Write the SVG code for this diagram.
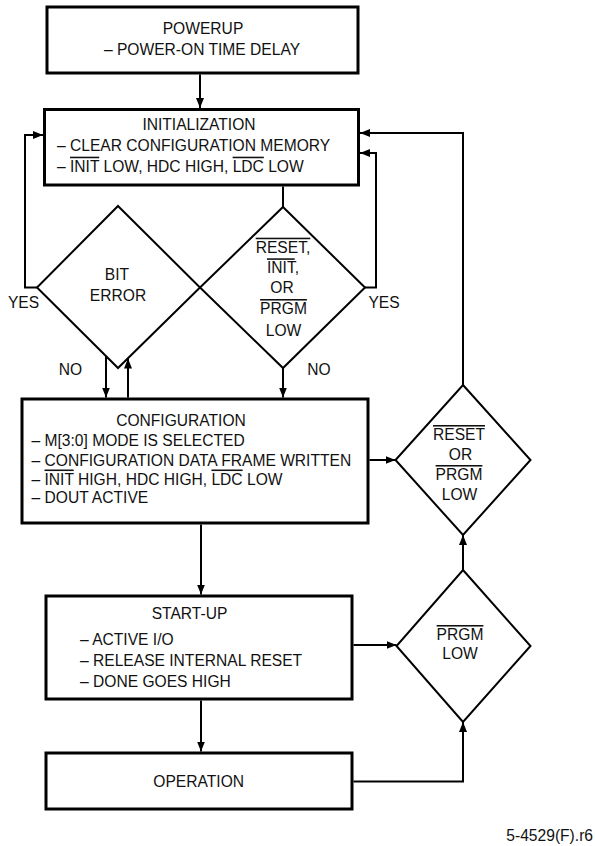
<svg xmlns="http://www.w3.org/2000/svg" width="595" height="846" viewBox="0 0 595 846">
<style>
  .box { fill: #fff; stroke: #000; stroke-width: 3; }
  .dia { fill: none; stroke: #000; stroke-width: 2; }
  .conn path { fill: none; stroke: #000; stroke-width: 2; }
  .arr { marker-end: url(#ah); }
  text { font-family: "Liberation Sans", Arial, sans-serif; font-size: 15.6px; fill: #111; }
  .c { text-anchor: middle; }
  .ov { text-decoration: overline; }
</style>
<defs>
  <marker id="ah" markerUnits="userSpaceOnUse" viewBox="0 0 10 8" refX="10" refY="4" markerWidth="10" markerHeight="8" orient="auto">
    <path d="M0,0 L10,4 L0,8 Z" fill="#000"/>
  </marker>
</defs>
<rect width="595" height="846" fill="#fff"/>

<g class="conn" id="connectors">
  <path class="arr" d="M200,74.5 V108"/>
  <path class="arr" d="M37,287.5 H25 V135 H43"/>
  <path class="arr" d="M365,287.5 H376 V153 H360"/>
  <path class="arr" d="M463,385 V133 H360"/>
  <path d="M283,186.5 V207"/>
  <path class="arr" d="M106,356 V397.5"/>
  <path class="arr" d="M128,397.5 V358.5"/>
  <path class="arr" d="M283,368 V397.5"/>
  <path class="arr" d="M369.5,460 H395.5"/>
  <path class="arr" d="M201,524.5 V594.5"/>
  <path class="arr" d="M353.5,645 H396.5"/>
  <path class="arr" d="M201,700.5 V751.5"/>
  <path class="arr" d="M463,570 V535"/>
  <path class="arr" d="M353.5,781.5 H463 V722"/>
</g>

<g id="powerup">
  <rect class="box" x="47" y="7" width="311" height="66"/>
  <text class="c" x="203" y="34">POWERUP</text>
  <text class="c" x="202" y="54.5">– POWER-ON TIME DELAY</text>
</g>

<g id="initialization">
  <rect class="box" x="44.5" y="109.5" width="314" height="75.5"/>
  <text class="c" x="199" y="130">INITIALIZATION</text>
  <text x="57" y="150.7">– CLEAR CONFIGURATION MEMORY</text>
  <text x="57" y="171.7">– <tspan class="ov">INIT</tspan> LOW, HDC HIGH, <tspan class="ov">LDC</tspan> LOW</text>
</g>

<g id="bit-error">
  <polygon class="dia" points="118,206 200,287.5 118,368 37,287.5"/>
  <text class="c" x="117" y="280">BIT</text>
  <text class="c" x="118" y="300.7">ERROR</text>
</g>

<g id="reset-init-prgm">
  <polygon class="dia" points="283,207 365,287.5 283,368 200,287.5"/>
  <text class="c" x="283" y="252.7"><tspan class="ov">RESET,</tspan></text>
  <text class="c" x="283" y="273.3"><tspan class="ov">INIT</tspan>,</text>
  <text class="c" x="282" y="293.3">OR</text>
  <text class="c" x="283.5" y="314"><tspan class="ov">PRGM</tspan></text>
  <text class="c" x="283.5" y="335.7">LOW</text>
</g>

<g id="labels">
  <text class="c" x="23.5" y="308">YES</text>
  <text class="c" x="384" y="308">YES</text>
  <text class="c" x="70.5" y="375">NO</text>
  <text class="c" x="319" y="375">NO</text>
</g>

<g id="configuration">
  <rect class="box" x="22" y="399" width="346" height="124"/>
  <text class="c" x="181" y="425.7">CONFIGURATION</text>
  <text x="31.5" y="445.7">– M[3:0] MODE IS SELECTED</text>
  <text x="31.5" y="465.7">– CONFIGURATION DATA FRAME WRITTEN</text>
  <text x="31.5" y="484.5">– <tspan class="ov">INIT</tspan> HIGH, HDC HIGH, <tspan class="ov">LDC</tspan> LOW</text>
  <text x="31.5" y="503.3">– DOUT ACTIVE</text>
</g>

<g id="reset-or-prgm">
  <polygon class="dia" points="463,385 530.5,460 463,535 395.5,460"/>
  <text class="c" x="459" y="440"><tspan class="ov">RESET</tspan></text>
  <text class="c" x="460.5" y="460">OR</text>
  <text class="c" x="459" y="480"><tspan class="ov">PRGM</tspan></text>
  <text class="c" x="459.5" y="500">LOW</text>
</g>

<g id="start-up">
  <rect class="box" x="46" y="596" width="306" height="103"/>
  <text class="c" x="189.5" y="619">START-UP</text>
  <text x="80" y="645">– ACTIVE I/O</text>
  <text x="80" y="665.7">– RELEASE INTERNAL RESET</text>
  <text x="80" y="687.3">– DONE GOES HIGH</text>
</g>

<g id="prgm-low">
  <polygon class="dia" points="463,570 530.5,646 463,722 396.5,646"/>
  <text class="c" x="460" y="640"><tspan class="ov">PRGM</tspan></text>
  <text class="c" x="460" y="659.3">LOW</text>
</g>

<g id="operation">
  <rect class="box" x="46" y="753" width="306" height="56"/>
  <text class="c" x="198.7" y="787.3">OPERATION</text>
</g>

<text x="593" y="841" text-anchor="end">5-4529(F).r6</text>
</svg>
